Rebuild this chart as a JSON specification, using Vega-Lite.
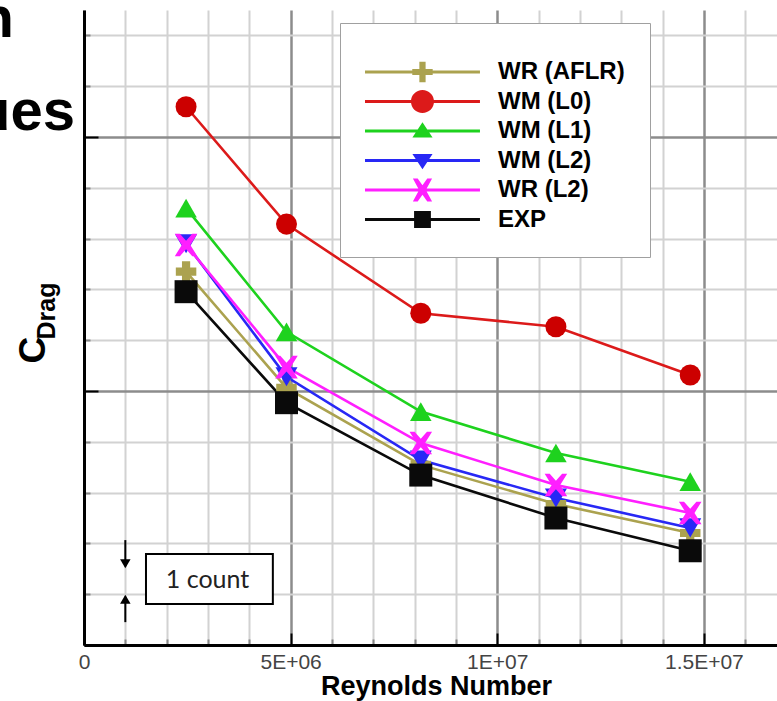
{
  "$schema": "https://vega.github.io/schema/vega-lite/v6.json",
  "width": 693,
  "height": 635,
  "autosize": {"type": "none"},
  "padding": {"left": 84, "top": 10, "right": 0, "bottom": 56},
  "background": "white",
  "config": {"view": {"stroke": null}, "font": "Liberation Sans"},
  "datasets": {
    "cd": [
      {"series": "WR (AFLR)", "re": 2470000, "cd": 14.70},
      {"series": "WR (AFLR)", "re": 4900000, "cd": 10.12},
      {"series": "WR (AFLR)", "re": 8150000, "cd": 7.09},
      {"series": "WR (AFLR)", "re": 11420000, "cd": 5.55},
      {"series": "WR (AFLR)", "re": 14670000, "cd": 4.41},
      {"series": "WM (L0)", "re": 2470000, "cd": 21.19},
      {"series": "WM (L0)", "re": 4900000, "cd": 16.57},
      {"series": "WM (L0)", "re": 8150000, "cd": 13.06},
      {"series": "WM (L0)", "re": 11420000, "cd": 12.53},
      {"series": "WM (L0)", "re": 14670000, "cd": 10.63},
      {"series": "WM (L1)", "re": 2470000, "cd": 17.20},
      {"series": "WM (L1)", "re": 4900000, "cd": 12.33},
      {"series": "WM (L1)", "re": 8150000, "cd": 9.19},
      {"series": "WM (L1)", "re": 11420000, "cd": 7.56},
      {"series": "WM (L1)", "re": 14670000, "cd": 6.43},
      {"series": "WM (L2)", "re": 2470000, "cd": 15.80},
      {"series": "WM (L2)", "re": 4900000, "cd": 10.56},
      {"series": "WM (L2)", "re": 8150000, "cd": 7.28},
      {"series": "WM (L2)", "re": 11420000, "cd": 5.79},
      {"series": "WM (L2)", "re": 14670000, "cd": 4.61},
      {"series": "WR (L2)", "re": 2470000, "cd": 15.75},
      {"series": "WR (L2)", "re": 4900000, "cd": 10.94},
      {"series": "WR (L2)", "re": 8150000, "cd": 7.95},
      {"series": "WR (L2)", "re": 11420000, "cd": 6.30},
      {"series": "WR (L2)", "re": 14670000, "cd": 5.20},
      {"series": "EXP", "re": 2470000, "cd": 13.91},
      {"series": "EXP", "re": 4900000, "cd": 9.54},
      {"series": "EXP", "re": 8150000, "cd": 6.69},
      {"series": "EXP", "re": 11420000, "cd": 5.00},
      {"series": "EXP", "re": 14670000, "cd": 3.71}
    ]
  },
  "layer": [
    {
      "data": {"name": "cd"},
      "mark": {"type": "line", "strokeWidth": 2.6},
      "encoding": {
        "x": {
          "field": "re", "type": "quantitative",
          "scale": {"domain": [0, 16770000], "nice": false, "zero": false},
          "axis": {
            "values": [0, 1000000, 2000000, 3000000, 4000000, 5000000, 6000000, 7000000, 8000000, 9000000, 10000000, 11000000, 12000000, 13000000, 14000000, 15000000, 16000000],
            "labelExpr": "datum.value == 0 ? '0' : datum.value == 5000000 ? '5E+06' : datum.value == 10000000 ? '1E+07' : datum.value == 15000000 ? '1.5E+07' : ''",
            "labelFontSize": 21, "labelColor": "#444", "labelFont": "Liberation Sans",
            "labelPadding": 18, "labelFlush": false, "labelOverlap": false,
            "domainColor": "black", "domainWidth": 3,
            "grid": true,
            "gridColor": {"condition": {"test": "datum.value % 5000000 === 0", "value": "#8c8c8c"}, "value": "#d2d2d2"},
            "gridWidth": {"condition": {"test": "datum.value % 5000000 === 0", "value": 2.5}, "value": 2},
            "tickColor": {"condition": {"test": "datum.value % 5000000 === 0", "value": "black"}, "value": "#888"},
            "tickSize": {"condition": {"test": "datum.value % 5000000 === 0", "value": -12}, "value": -6},
            "tickWidth": 2,
            "title": "Reynolds Number", "titleFontSize": 27, "titleFontWeight": "bold", "titleColor": "black",
            "titleFont": "Liberation Sans", "titlePadding": -5, "titleX": 352
          }
        },
        "y": {
          "field": "cd", "type": "quantitative",
          "scale": {"domain": [0, 25], "nice": false, "zero": false},
          "axis": {
            "values": [0, 1, 2, 3, 4, 5, 6, 7, 8, 9, 10, 11, 12, 13, 14, 15, 16, 17, 18, 19, 20, 21, 22, 23, 24, 25],
            "labels": false, "title": null,
            "domainColor": "black", "domainWidth": 3,
            "grid": true,
            "gridColor": {"condition": [{"test": "datum.value === 25", "value": "black"}, {"test": "datum.value % 5 === 0", "value": "#8c8c8c"}], "value": "#d2d2d2"},
            "gridWidth": {"condition": [{"test": "datum.value === 25", "value": 3}, {"test": "datum.value % 5 === 0", "value": 2.5}], "value": 2},
            "tickColor": {"condition": {"test": "datum.value % 5 === 0", "value": "black"}, "value": "#888"},
            "tickSize": {"condition": {"test": "datum.value % 5 === 0", "value": -14}, "value": -6},
            "tickWidth": 2
          }
        },
        "color": {
          "field": "series", "type": "nominal",
          "scale": {
            "domain": ["WR (AFLR)", "WM (L0)", "WM (L1)", "WM (L2)", "WR (L2)", "EXP"],
            "range": ["#aba24f", "#dc1a1a", "#1ed21e", "#2828f5", "#ff1fff", "#0a0a0a"]
          },
          "legend": null
        }
      }
    },
    {
      "data": {"name": "cd"},
      "mark": {"type": "point", "filled": true, "opacity": 1},
      "encoding": {
        "x": {"field": "re", "type": "quantitative", "scale": {"domain": [0, 16770000], "nice": false, "zero": false}},
        "y": {"field": "cd", "type": "quantitative", "scale": {"domain": [0, 25], "nice": false, "zero": false}},
        "color": {
          "field": "series", "type": "nominal",
          "scale": {
            "domain": ["WR (AFLR)", "WM (L0)", "WM (L1)", "WM (L2)", "WR (L2)", "EXP"],
            "range": ["#aba24f", "#cc0000", "#1ed21e", "#2828f5", "#ff1fff", "#0a0a0a"]
          },
          "legend": null
        },
        "shape": {
          "field": "series", "type": "nominal",
          "scale": {
            "domain": ["WR (AFLR)", "WM (L0)", "WM (L1)", "WM (L2)", "WR (L2)", "EXP"],
            "range": ["cross", "circle", "triangle-up", "triangle-down", "M-1,-1L-0.55,-1L0,-0.38L0.55,-1L1,-1L0.38,0L1,1L0.55,1L0,0.38L-0.55,1L-1,1L-0.38,0Z", "square"]
          },
          "legend": null
        },
        "size": {
          "field": "series", "type": "nominal",
          "scale": {
            "domain": ["WR (AFLR)", "WM (L0)", "WM (L1)", "WM (L2)", "WR (L2)", "EXP"],
            "range": [420, 529, 440, 440, 420, 300]
          },
          "legend": null
        }
      }
    },
    {
      "data": {"name": "cd"},
      "mark": {"type": "point", "filled": true, "opacity": 0},
      "encoding": {
        "x": {"field": "re", "type": "quantitative", "scale": {"domain": [0, 16770000], "nice": false, "zero": false}},
        "y": {"field": "cd", "type": "quantitative", "scale": {"domain": [0, 25], "nice": false, "zero": false}},
        "color": {
          "field": "series", "type": "nominal",
          "scale": {
            "domain": ["WR (AFLR)", "WM (L0)", "WM (L1)", "WM (L2)", "WR (L2)", "EXP"],
            "range": ["#aba24f", "#dc1a1a", "#1ed21e", "#2828f5", "#ff1fff", "#0a0a0a"]
          },
          "legend": {
            "orient": "none", "legendX": 256, "legendY": 13,
            "title": " ", "titleFontSize": 12, "titlePadding": 0,
            "padding": 25, "fillColor": "white", "strokeColor": "#a0a0a0",
            "symbolSize": 576, "symbolStrokeWidth": 0, "symbolOpacity": 1,
            "labelFont": "Liberation Sans", "labelFontSize": 24, "labelFontWeight": "bold", "labelColor": "black",
            "labelOffset": 109, "labelLimit": 0, "rowPadding": 5.5
          }
        },
        "shape": {
          "field": "series", "type": "nominal",
          "scale": {
            "domain": ["WR (AFLR)", "WM (L0)", "WM (L1)", "WM (L2)", "WR (L2)", "EXP"],
            "range": [
              "M-1,-0.13H8.58V0.13H-1Z M3.53,-0.85L4.05,-0.85L4.05,-0.26L4.64,-0.26L4.64,0.26L4.05,0.26L4.05,0.85L3.53,0.85L3.53,0.26L2.94,0.26L2.94,-0.26L3.53,-0.26Z",
              "M-1,-0.13H8.58V0.13H-1Z M2.83,0A0.96,0.96,0,1,1,4.75,0A0.96,0.96,0,1,1,2.83,0Z",
              "M-1,-0.13H8.58V0.13H-1Z M3.79,-0.72L4.63,0.55L2.95,0.55Z",
              "M-1,-0.13H8.58V0.13H-1Z M2.95,-0.55L4.63,-0.55L3.79,0.72Z",
              "M-1,-0.13H8.58V0.13H-1Z M2.99,-0.95L3.39,-0.95L3.79,-0.4L4.19,-0.95L4.59,-0.95L4.07,0L4.59,0.95L4.19,0.95L3.79,0.4L3.39,0.95L2.99,0.95L3.51,0Z",
              "M-1,-0.13H8.58V0.13H-1Z M3.09,-0.7H4.49V0.7H3.09Z"
            ]
          },
          "legend": {
            "orient": "none", "legendX": 256, "legendY": 13,
            "title": " ", "titleFontSize": 12, "titlePadding": 0,
            "padding": 25, "fillColor": "white", "strokeColor": "#a0a0a0",
            "symbolSize": 576, "symbolStrokeWidth": 0, "symbolOpacity": 1,
            "labelFont": "Liberation Sans", "labelFontSize": 24, "labelFontWeight": "bold", "labelColor": "black",
            "labelOffset": 109, "labelLimit": 0, "rowPadding": 5.5,
            "encode": {
              "legend": {"update": {"strokeWidth": {"value": 3}}}
            }
          }
        }
      }
    },
    {
      "data": {"values": [{"re": 1500000, "re2": 4570000, "cd": 3.58, "cd2": 1.61}]},
      "mark": {"type": "rect", "fill": "white", "stroke": "black", "strokeWidth": 2},
      "encoding": {
        "x": {"field": "re", "type": "quantitative"},
        "x2": {"field": "re2"},
        "y": {"field": "cd", "type": "quantitative"},
        "y2": {"field": "cd2"}
      }
    },
    {
      "data": {"values": [{"re": 2990000, "cd": 2.56, "label": "1 count"}]},
      "mark": {"type": "text", "font": "Lato", "fontSize": 25, "color": "#222", "align": "center", "baseline": "middle"},
      "encoding": {
        "x": {"field": "re", "type": "quantitative"},
        "y": {"field": "cd", "type": "quantitative"},
        "text": {"field": "label"}
      }
    },
    {
      "data": {"values": [{"re": 1000000, "cd": 4.13, "cd2": 3.1}, {"re": 1000000, "cd": 1.9, "cd2": 0.9}]},
      "mark": {"type": "rule", "color": "black", "strokeWidth": 2},
      "encoding": {
        "x": {"field": "re", "type": "quantitative"},
        "y": {"field": "cd", "type": "quantitative"},
        "y2": {"field": "cd2"}
      }
    },
    {
      "data": {"values": [{"re": 1000000, "cd": 3.2, "dir": "down"}, {"re": 1000000, "cd": 1.8, "dir": "up"}]},
      "mark": {"type": "point", "filled": true, "color": "black", "opacity": 1, "size": 110},
      "encoding": {
        "x": {"field": "re", "type": "quantitative"},
        "y": {"field": "cd", "type": "quantitative"},
        "shape": {"field": "dir", "type": "nominal", "scale": {"domain": ["down", "up"], "range": ["triangle-down", "triangle-up"]}, "legend": null}
      }
    },
    {
      "data": {"values": [{"re": -1694000, "cd": 23.94, "label": "n"}, {"re": -218000, "cd": 20.28, "label": "ues"}]},
      "mark": {"type": "text", "font": "Liberation Sans", "fontWeight": "bold", "fontSize": 58, "color": "black", "align": "right", "baseline": "alphabetic"},
      "encoding": {
        "x": {"field": "re", "type": "quantitative"},
        "y": {"field": "cd", "type": "quantitative"},
        "text": {"field": "label"}
      }
    },
    {
      "data": {"values": [{"re": -944000, "cd": 11.61, "label": "C"}]},
      "mark": {"type": "text", "font": "Liberation Sans", "fontWeight": "bold", "fontSize": 37, "color": "black", "align": "center", "baseline": "alphabetic", "angle": 270},
      "encoding": {
        "x": {"field": "re", "type": "quantitative"},
        "y": {"field": "cd", "type": "quantitative"},
        "text": {"field": "label"}
      }
    },
    {
      "data": {"values": [{"re": -702000, "cd": 13.15, "label": "Drag"}]},
      "mark": {"type": "text", "font": "Liberation Sans", "fontWeight": "bold", "fontSize": 25, "color": "black", "align": "center", "baseline": "alphabetic", "angle": 270},
      "encoding": {
        "x": {"field": "re", "type": "quantitative"},
        "y": {"field": "cd", "type": "quantitative"},
        "text": {"field": "label"}
      }
    }
  ],
  "resolve": {"scale": {"shape": "independent", "color": "independent"}}
}
